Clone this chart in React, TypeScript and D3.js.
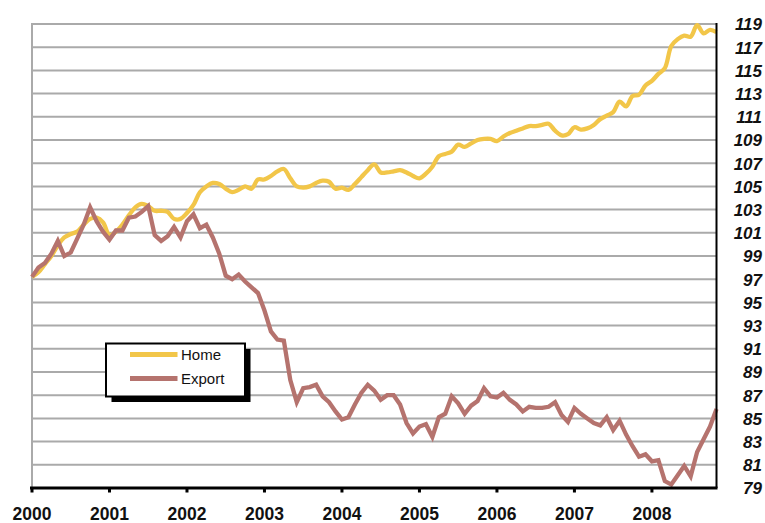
import React from "react";
import * as d3 from "d3";

const years = ["2000", "2001", "2002", "2003", "2004", "2005", "2006", "2007", "2008"];
const yTicks = [79, 81, 83, 85, 87, 89, 91, 93, 95, 97, 99, 101, 103, 105, 107, 109, 111, 113, 115, 117, 119];

// Monthly, Jan 2000 .. Nov 2008
const home = [
  97.2, 97.6, 98.3, 99.0, 99.9, 100.6, 100.9, 101.1, 101.7, 102.2, 102.3, 101.9,
  100.8, 101.1, 101.7, 102.5, 103.2, 103.5, 103.3, 102.9, 102.9, 102.8, 102.2, 102.2,
  102.7, 103.4, 104.5, 105.0, 105.3, 105.2, 104.8, 104.5, 104.7, 105.0, 104.8, 105.6,
  105.6, 105.9, 106.3, 106.5, 105.7, 105.0, 104.9, 105.0, 105.3, 105.5, 105.4, 104.8,
  104.9, 104.7, 105.2, 105.8, 106.4, 106.9, 106.2, 106.2, 106.3, 106.4, 106.2, 105.9,
  105.7, 106.1, 106.7, 107.6, 107.8, 108.0, 108.6, 108.4, 108.7, 109.0, 109.1, 109.1,
  108.9, 109.3, 109.6, 109.8, 110.0, 110.2, 110.2, 110.3, 110.4, 109.8, 109.4, 109.5,
  110.1, 109.9, 110.0, 110.3, 110.8, 111.1, 111.4, 112.3, 111.9, 112.8, 112.9, 113.7,
  114.1, 114.7, 115.2, 117.1, 117.7, 118.0, 117.9, 118.9, 118.2, 118.5, 118.3,
];
const exportSeries = [
  97.2, 98.0, 98.4, 99.2, 100.3, 99.0, 99.3, 100.5, 101.7, 103.2, 102.0, 101.1,
  100.4, 101.2, 101.2, 102.3, 102.4, 102.8, 103.3, 100.8, 100.3, 100.7, 101.5, 100.6,
  102.0, 102.6, 101.4, 101.7, 100.6, 99.2, 97.3, 97.0, 97.4, 96.8, 96.3, 95.8,
  94.3, 92.5, 91.8, 91.7, 88.3, 86.4, 87.6, 87.7, 87.9, 86.9, 86.4, 85.6,
  84.9, 85.1, 86.2, 87.2, 87.9, 87.4, 86.6, 87.0, 87.0, 86.2, 84.6, 83.7,
  84.3, 84.5, 83.4, 85.1, 85.4, 86.9, 86.3, 85.4, 86.1, 86.5, 87.6, 86.9,
  86.8, 87.2, 86.6, 86.2, 85.6, 86.0, 85.9, 85.9, 86.0, 86.4, 85.3, 84.7,
  85.9, 85.4, 85.0, 84.6, 84.4, 85.1, 84.0, 84.8, 83.6, 82.6, 81.7, 81.9,
  81.3, 81.4, 79.6, 79.3, 80.1, 80.9, 80.0, 82.1, 83.2, 84.3, 85.8,
];
const seriesNames = ["Home", "Export"];
const colors = ["#F2C649", "#B5736E"];

const W = 765, H = 523;
const left = 32, right = 716.5, top = 24, bottom = 488;

export default function App() {
  const x = d3.scaleLinear().domain([0, home.length - 1]).range([left, right]);
  const y = d3.scaleLinear().domain([79, 119]).range([bottom, top]);
  const homeLine = d3.line<number>().x((_, i) => x(i)).y((d) => y(d)).curve(d3.curveCatmullRom.alpha(0.5));
  const expLine = d3.line<number>().x((_, i) => x(i)).y((d) => y(d));
  const font = "'Liberation Sans', Arial, Helvetica, sans-serif";
  const lx = 106, ly = 343.5, lw = 139, lh = 53;
  return (
    <svg width={W} height={H} style={{ position: "absolute", left: 0, top: 0, background: "#fff" }} fontFamily={font}>
      {yTicks.map((t) => (
        <line key={"g" + t} x1={left} x2={right} y1={y(t)} y2={y(t)} stroke="#aaaaaa" strokeWidth={2} />
      ))}
      <line x1={left} x2={left} y1={top - 1} y2={bottom} stroke="#aaaaaa" strokeWidth={2} />
      <path d={homeLine(home) || ""} fill="none" stroke={colors[0]} strokeWidth={4.3} strokeLinejoin="round" />
      <path d={expLine(exportSeries) || ""} fill="none" stroke={colors[1]} strokeWidth={4.3} strokeLinejoin="miter" />
      <line x1={right} x2={right} y1={top - 1} y2={bottom} stroke="#000" strokeWidth={2} />
      <line x1={left - 2} x2={right + 1} y1={bottom} y2={bottom} stroke="#000" strokeWidth={3} />
      {years.map((yr, i) => (
        <g key={yr}>
          <rect x={x(i * 12) - 1.5} y={bottom} width={3} height={4.5} fill="#000" />
          <text x={x(i * 12)} y={519.5} textAnchor="middle" fontSize={17.5} fontWeight="bold" fill="#111">
            {yr}
          </text>
        </g>
      ))}
      {yTicks.map((t) => (
        <text key={"t" + t} x={762} y={y(t) + 6.3} textAnchor="end" fontSize={17} fontWeight="bold" fontStyle="italic" fill="#111">
          {t}
        </text>
      ))}
      <rect x={lx + 5.5} y={ly + 5.5} width={lw} height={lh} fill="#000" />
      <rect x={lx} y={ly} width={lw} height={lh} fill="#fff" stroke="#000" strokeWidth={2} />
      {seriesNames.map((n, i) => (
        <g key={n}>
          <line x1={130} x2={177.5} y1={354.5 + i * 24} y2={354.5 + i * 24} stroke={colors[i]} strokeWidth={5} />
          <text x={181} y={354.5 + i * 24 + 5} fontSize={15} fill="#111">
            {n}
          </text>
        </g>
      ))}
    </svg>
  );
}
